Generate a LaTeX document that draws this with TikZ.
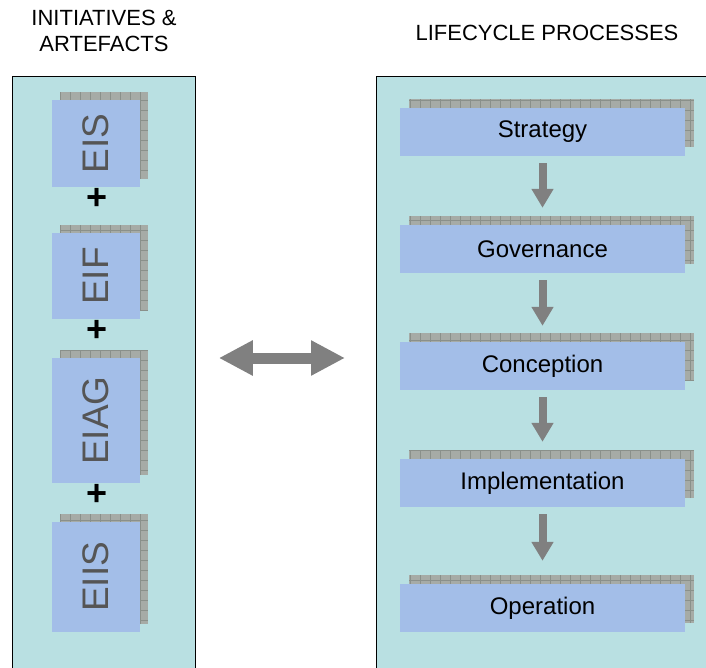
\documentclass[tikz,border=0pt]{standalone}
\usepackage{fontspec}
\setmainfont{Liberation Sans}
\usetikzlibrary{arrows.meta}

\definecolor{panelcyan}{RGB}{185,224,226}
\definecolor{boxblue}{RGB}{163,190,232}
\definecolor{shadegray}{RGB}{166,171,166}
\definecolor{gridgray}{RGB}{138,144,138}
\definecolor{arrowgray}{RGB}{128,128,128}
\definecolor{labelgray}{RGB}{85,85,85}

\begin{document}
\begin{tikzpicture}[x=1pt,y=-1pt,
panel/.style={draw=black,line width=0.8pt,fill=panelcyan,anchor=north west},
stage/.style={fill=boxblue,minimum width=285pt,minimum height=48pt,inner sep=0pt,font=\fontsize{24}{28}\selectfont},
artefact/.style={fill=boxblue,rotate=90,minimum height=88pt,inner sep=0pt,text=labelgray,font=\fontsize{37}{40}\selectfont},
shade/.style={fill=shadegray},
tiles/.style={gridgray,line width=0.7pt,step=10pt},
plus/.style={font=\fontsize{36}{36}\bfseries\selectfont,inner sep=0pt},
title/.style={font=\fontsize{22}{26}\selectfont,align=center},
flow/.style={arrowgray,line width=8pt,-{Triangle[width=21pt,length=19pt]}},
link/.style={arrowgray,line width=11pt,{Triangle[width=33pt,length=34pt]}-{Triangle[width=33pt,length=34pt]}}]
\useasboundingbox (0,0) rectangle (706,668);
% panels
\node[panel,minimum width=183pt,minimum height=600pt] (initiatives) at (12,76) {};
\node[panel,minimum width=340pt,minimum height=600pt] (lifecycle) at (376,76) {};
\node[title] (initTitle) at (104,31) {INITIATIVES \&\\ARTEFACTS};
\node[title] (lifeTitle) at (547,33) {LIFECYCLE PROCESSES};
% initiatives and artefacts
\foreach \nm/\cy/\h/\txt in {eis/143.5/87/EIS,eif/276/86/EIF,eiag/420.5/125/EIAG,eiis/577/110/EIIS}{
  \fill[shade] (60,{\cy-\h/2-8}) rectangle (148,{\cy+\h/2-8});
  \draw[tiles] (60,{\cy-\h/2-8}) grid (148,{\cy+\h/2-8});
  \node[artefact,minimum width=\h pt] (\nm) at (96,\cy) {\txt};
}
\foreach \nm/\cy in {plusA/199,plusB/331,plusC/495}
  \node[plus] (\nm) at (97,\cy) {+};
% lifecycle processes
\foreach \nm/\cy/\txt in {strategy/132/Strategy,governance/249/Governance,conception/366/Conception,implementation/483/Implementation,operation/608/Operation}{
  \fill[shade] (409,{\cy-33}) rectangle (694,{\cy+15});
  \draw[tiles] (409,{\cy-33}) grid (694,{\cy+15});
  \node[stage] (\nm) at (542.5,\cy) {\txt};
}
\foreach \a/\b/\e in {strategy/governance/17,governance/conception/16,conception/implementation/17,implementation/operation/23}
  \draw[flow,shorten <=7pt,shorten >=\e pt] (\a) -- (\b);
% between the panels
\coordinate (mid) at (280,358);
\draw[link,shorten <=23pt,shorten >=31pt] (initiatives.east |- mid) -- (lifecycle.west |- mid);
\end{tikzpicture}
\end{document}
